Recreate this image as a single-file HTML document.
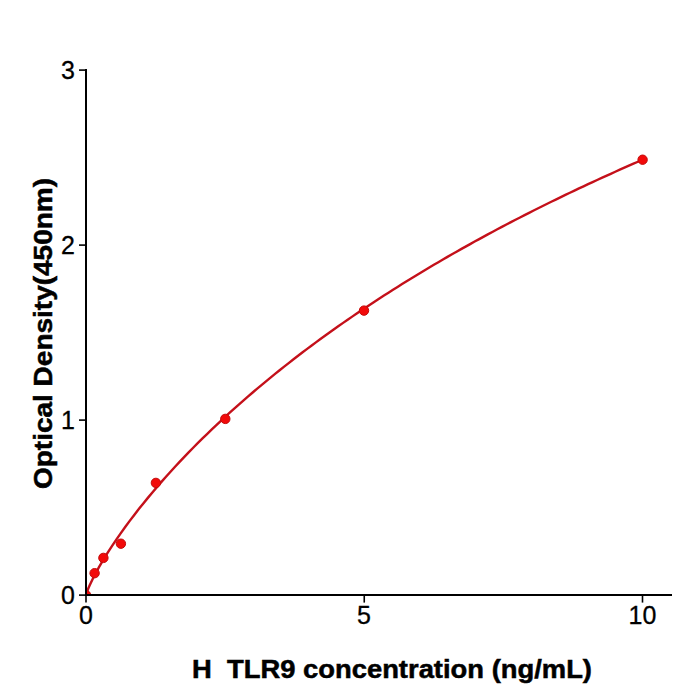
<!DOCTYPE html>
<html><head><meta charset="utf-8"><style>
html,body{margin:0;padding:0;background:#fff;width:700px;height:700px;overflow:hidden}
svg{display:block}
text{font-family:"Liberation Sans",sans-serif;fill:#000}
</style></head><body>
<svg width="700" height="700" viewBox="0 0 700 700">
<defs><clipPath id="ax"><rect x="86" y="60" width="600" height="535.1"/></clipPath></defs>
<g clip-path="url(#ax)">
<polyline points="86.00,595.10 86.01,595.22 87.20,591.33 88.39,588.28 89.58,585.51 90.77,582.90 91.97,580.41 93.16,578.01 94.35,575.68 95.54,573.42 96.73,571.21 97.93,569.05 99.12,566.94 100.31,564.86 101.50,562.82 102.69,560.81 107.23,553.42 111.77,546.38 116.30,539.62 120.84,533.10 125.38,526.78 129.91,520.65 134.45,514.68 138.98,508.86 143.52,503.18 148.06,497.62 152.59,492.19 157.13,486.86 161.67,481.64 166.20,476.51 170.74,471.48 175.27,466.53 179.81,461.66 184.35,456.88 188.88,452.17 193.42,447.53 197.95,442.96 202.49,438.46 207.03,434.03 211.56,429.65 216.10,425.34 220.64,421.08 225.17,416.88 229.71,412.73 234.24,408.63 238.78,404.59 243.32,400.59 247.85,396.65 252.39,392.74 256.92,388.89 261.46,385.08 266.00,381.31 270.53,377.58 275.07,373.89 279.61,370.25 284.14,366.64 288.68,363.07 293.21,359.53 297.75,356.04 302.29,352.57 306.82,349.15 311.36,345.75 315.90,342.39 320.43,339.07 324.97,335.77 329.50,332.51 334.04,329.27 338.58,326.07 343.11,322.89 347.65,319.75 352.18,316.63 356.72,313.54 361.26,310.48 365.79,307.44 370.33,304.43 374.87,301.45 379.40,298.49 383.94,295.56 388.47,292.65 393.01,289.77 397.55,286.90 402.08,284.07 406.62,281.25 411.15,278.46 415.69,275.69 420.23,272.95 424.76,270.22 429.30,267.51 433.84,264.83 438.37,262.17 442.91,259.53 447.44,256.90 451.98,254.30 456.52,251.72 461.05,249.15 465.59,246.61 470.13,244.08 474.66,241.57 479.20,239.08 483.73,236.61 488.27,234.16 492.81,231.72 497.34,229.30 501.88,226.90 506.41,224.51 510.95,222.14 515.49,219.79 520.02,217.45 524.56,215.13 529.10,212.82 533.63,210.53 538.17,208.26 542.70,206.00 547.24,203.75 551.78,201.52 556.31,199.31 560.85,197.10 565.38,194.92 569.92,192.74 574.46,190.59 578.99,188.44 583.53,186.31 588.07,184.19 592.60,182.08 597.14,179.99 601.67,177.91 606.21,175.85 610.75,173.79 615.28,171.75 619.82,169.72 624.36,167.71 628.89,165.70 633.43,163.71 637.96,161.73 642.50,159.76" fill="none" stroke="#c4101a" stroke-width="2.4" stroke-linejoin="round"/>
<g fill="#f20a0a" stroke="#c40a0a" stroke-width="1">
<circle cx="86" cy="595.1" r="4.7"/>
<circle cx="94.6" cy="573.2" r="4.7"/>
<circle cx="103.4" cy="557.9" r="4.7"/>
<circle cx="120.9" cy="543.7" r="4.7"/>
<circle cx="155.9" cy="482.9" r="4.7"/>
<circle cx="225.3" cy="418.9" r="4.7"/>
<circle cx="364" cy="310.6" r="4.7"/>
<circle cx="642.6" cy="159.7" r="4.7"/>
</g>
</g>
<g stroke="#000" stroke-width="2" fill="none">
<line x1="86" y1="69.1" x2="86" y2="596.1"/>
<line x1="85" y1="595.1" x2="672" y2="595.1"/>
</g>
<g stroke="#000" stroke-width="1.6">
<line x1="79" y1="70.1" x2="86" y2="70.1"/>
<line x1="79" y1="245.1" x2="86" y2="245.1"/>
<line x1="79" y1="420.1" x2="86" y2="420.1"/>
<line x1="79" y1="595.1" x2="86" y2="595.1"/>
<line x1="86" y1="595.1" x2="86" y2="602.6"/>
<line x1="364.25" y1="595.1" x2="364.25" y2="602.6"/>
<line x1="642.5" y1="595.1" x2="642.5" y2="602.6"/>
</g>
<g font-size="25" text-anchor="end" stroke="#000" stroke-width="0.3">
<text x="75" y="79">3</text>
<text x="75" y="254">2</text>
<text x="75" y="429">1</text>
<text x="75" y="604">0</text>
</g>
<g font-size="25" text-anchor="middle" stroke="#000" stroke-width="0.3">
<text x="86" y="624">0</text>
<text x="364" y="624">5</text>
<text x="642.5" y="624">10</text>
</g>
<text font-size="25" font-weight="bold" stroke="#000" stroke-width="0.5" x="192" y="677.6" textLength="400" lengthAdjust="spacingAndGlyphs" xml:space="preserve">H  TLR9 concentration (ng/mL)</text>
<text font-size="25" font-weight="bold" stroke="#000" stroke-width="0.5" transform="translate(52,489) rotate(-90)" textLength="311" lengthAdjust="spacingAndGlyphs">Optical Density(450nm)</text>
</svg>
</body></html>
